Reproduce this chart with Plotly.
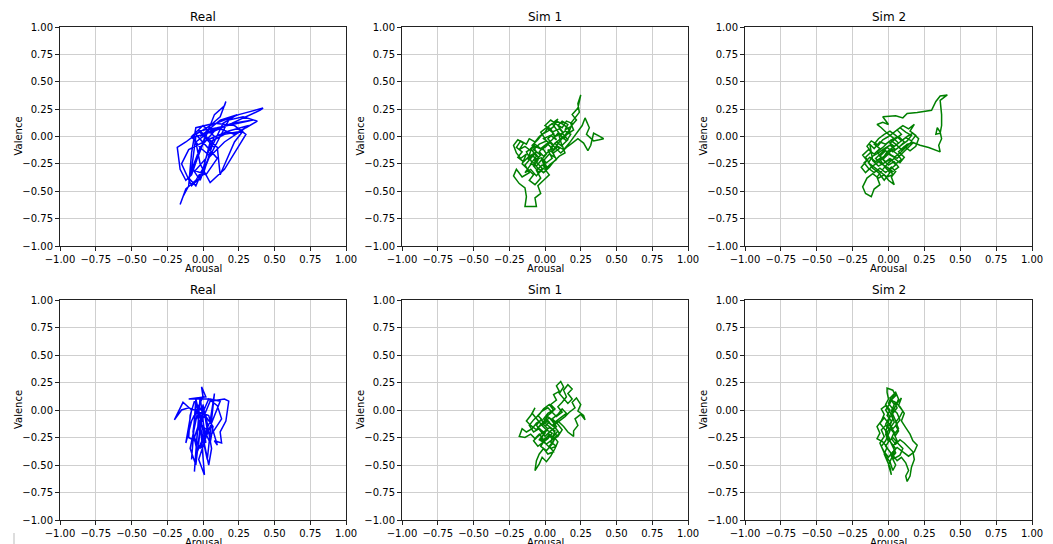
import plotly.graph_objects as go

# ---------------- data (arousal, valence) ----------------
real_top = [(0.00,-0.05),(0.05,0.10),(-0.05,0.02),(0.10,-0.20),(0.02,-0.35),(-0.08,-0.30),(-0.05,0.00),(0.08,0.05),
    (0.20,0.12),(0.35,0.15),(0.10,0.08),(-0.02,-0.10),(-0.10,-0.38),(-0.05,-0.45),(0.00,-0.30),(0.05,-0.05),
    (0.15,0.02),(0.28,0.05),(0.22,-0.05),(0.12,-0.35),(0.10,-0.10),(-0.02,0.05),(-0.12,-0.05),(-0.18,-0.10),
    (-0.16,-0.30),(-0.12,-0.40),(-0.08,-0.35),(-0.04,-0.20),(0.02,0.00),(0.08,0.20),(0.15,0.28),(0.16,0.32),
    (0.12,0.18),(0.05,0.10),(0.25,0.20),(0.42,0.26),(0.40,0.24),(0.20,0.12),(0.05,0.05),(-0.05,-0.05),
    (-0.02,-0.25),(0.05,-0.42),(0.15,-0.30),(0.30,0.02),(0.22,0.10),(0.08,0.12),(-0.05,0.08),(-0.08,-0.15),
    (-0.10,-0.45),(-0.14,-0.55),(-0.16,-0.62),(-0.12,-0.48),(-0.05,-0.40),(0.02,-0.25),(0.10,-0.05),(0.18,0.15),
    (0.28,0.18),(0.38,0.14),(0.30,0.08),(0.15,-0.05),(0.05,-0.18),(-0.02,-0.10),(-0.08,0.00),(0.00,0.10),
    (0.08,0.00),(0.02,-0.20),(-0.06,-0.32),(-0.02,-0.40),(0.04,-0.20),(0.08,-0.10),(-0.03,0.05),(0.10,0.08),
    (0.22,0.02),(0.32,0.10),(0.18,0.05),(0.05,-0.02),(-0.10,-0.12),(-0.15,-0.25),(-0.08,-0.45),(0.00,-0.35),
    (0.06,-0.10),(0.14,0.12),(0.24,0.20),(0.12,0.15),(-0.02,0.00)]

sim1_top = [(0.00,-0.10),(0.03,-0.06),(-0.01,-0.02),(0.04,0.01),(0.08,-0.03),(0.05,0.04),(0.10,0.07),(0.13,0.03),
    (0.09,0.10),(0.12,0.14),(0.16,0.11),(0.14,0.06),(0.18,0.09),(0.22,0.15),(0.19,0.20),(0.23,0.26),(0.25,0.38),
    (0.23,0.30),(0.24,0.22),(0.21,0.17),(0.18,0.12),(0.20,0.06),(0.15,0.02),(0.11,-0.02),(0.07,-0.06),(0.10,-0.11),
    (0.06,-0.15),(0.02,-0.12),(0.05,-0.20),(0.01,-0.24),(-0.03,-0.19),(0.00,-0.28),(-0.04,-0.33),(-0.08,-0.27),
    (-0.05,-0.22),(-0.09,-0.17),(-0.12,-0.21),(-0.10,-0.13),(-0.14,-0.09),(-0.18,-0.12),(-0.15,-0.06),(-0.19,-0.03),
    (-0.22,-0.08),(-0.20,-0.15),(-0.17,-0.20),(-0.13,-0.16),(-0.16,-0.25),(-0.12,-0.30),(-0.08,-0.35),(-0.11,-0.40),
    (-0.07,-0.44),(-0.03,-0.38),(-0.06,-0.31),(-0.02,-0.26),(0.02,-0.30),(-0.01,-0.22),(0.03,-0.16),(0.07,-0.19),
    (0.04,-0.10),(0.08,-0.05),(0.12,-0.09),(0.10,0.00),(0.14,0.05),(0.18,0.02),(0.15,-0.04),(0.11,0.01),(0.08,0.06),
    (0.05,0.12),(0.09,0.16),(0.06,0.09),(0.02,0.05),(-0.02,0.02),(-0.05,-0.03),(-0.09,-0.08),(-0.06,-0.14),
    (-0.10,-0.20),(-0.14,-0.26),(-0.11,-0.33),(-0.16,-0.37),(-0.20,-0.30),(-0.22,-0.36),(-0.18,-0.43),(-0.14,-0.47),
    (-0.13,-0.55),(-0.14,-0.64),(-0.06,-0.64),(-0.07,-0.56),(-0.03,-0.52),(-0.05,-0.45),(-0.01,-0.40),(0.03,-0.35),
    (0.00,-0.30),(0.04,-0.25),(0.08,-0.21),(0.05,-0.14),(0.09,-0.09),(0.13,-0.12),(0.17,-0.06),(0.20,-0.01),
    (0.23,0.04),(0.26,0.10),(0.28,0.17),(0.31,0.08),(0.29,0.02),(0.34,-0.04),(0.38,-0.03),(0.41,-0.02),(0.37,0.01),
    (0.34,0.03),(0.32,-0.08),(0.30,-0.13),(0.27,-0.06),(0.23,-0.02),(0.19,-0.06),(0.15,-0.10),(0.11,-0.15),
    (0.07,-0.10),(0.03,-0.05),(-0.01,-0.09),(-0.04,-0.14),(-0.01,-0.18),(0.03,-0.13),(0.06,-0.08),(0.02,-0.02),
    (0.06,0.03),(0.01,0.08),(-0.03,0.04),(0.01,-0.04),(-0.04,-0.07),(-0.08,-0.12),(-0.03,-0.17),(-0.07,-0.22),
    (-0.02,-0.29),(-0.06,-0.36),(-0.10,-0.30),(-0.14,-0.33),(-0.09,-0.24),(-0.13,-0.14),(-0.07,-0.09),(-0.02,-0.12),
    (0.02,-0.07),(0.06,-0.12),(0.10,-0.05),(0.13,0.00),(0.17,0.06),(0.13,0.11),(0.08,0.14),(0.03,0.10),(0.00,0.04),
    (-0.04,0.00),(-0.07,-0.05),(-0.11,-0.02),(-0.13,-0.07),(-0.17,-0.04),(-0.20,-0.10),(-0.16,-0.14),(-0.19,-0.19),
    (-0.15,-0.23),(-0.11,-0.18),(-0.07,-0.15),(-0.04,-0.20),(-0.08,-0.24),(-0.05,-0.29),(-0.01,-0.33),(0.03,-0.28),
    (0.06,-0.23),(0.10,-0.18),(0.14,-0.15),(0.12,-0.08),(0.16,-0.03),(0.12,0.03),(0.07,0.00),(0.04,0.07),
    (0.00,0.10),(0.04,0.15),(0.08,0.11),(0.12,0.08),(0.15,0.14),(0.19,0.12),(0.17,0.05),(0.13,-0.02),(0.09,0.03),
    (0.05,-0.03),(0.01,-0.07),(-0.03,-0.11),(-0.07,-0.07),(-0.10,-0.11),(-0.06,-0.18),(-0.10,-0.25),(-0.06,-0.27),
    (-0.03,-0.22),(0.01,-0.16),(-0.02,-0.10)]

sim2_top = [(0.00,-0.15),(0.04,-0.11),(0.01,-0.06),(0.05,-0.02),(0.09,0.02),(0.06,0.06),(0.10,0.10),(0.14,0.07),
    (0.18,0.11),(0.15,0.05),(0.19,0.01),(0.16,-0.04),(0.12,-0.01),(0.08,-0.05),(0.04,-0.09),(0.00,-0.05),
    (-0.04,-0.10),(-0.08,-0.14),(-0.05,-0.19),(-0.09,-0.23),(-0.13,-0.19),(-0.17,-0.24),(-0.14,-0.29),(-0.10,-0.33),
    (-0.06,-0.29),(-0.02,-0.33),(0.02,-0.28),(0.05,-0.32),(0.02,-0.37),(0.04,-0.44),(0.00,-0.40),(-0.03,-0.35),
    (-0.07,-0.38),(-0.11,-0.34),(-0.15,-0.38),(-0.18,-0.46),(-0.16,-0.52),(-0.12,-0.55),(-0.10,-0.48),(-0.06,-0.44),
    (-0.08,-0.37),(-0.04,-0.30),(0.00,-0.24),(0.04,-0.20),(0.08,-0.24),(0.11,-0.19),(0.07,-0.14),(0.11,-0.09),
    (0.15,-0.13),(0.19,-0.09),(0.21,-0.02),(0.17,0.03),(0.13,0.00),(0.09,-0.04),(0.05,0.01),(0.01,0.05),
    (-0.03,0.02),(-0.07,-0.02),(-0.10,-0.07),(-0.06,-0.11),(-0.10,-0.16),(-0.14,-0.12),(-0.18,-0.17),(-0.15,-0.22),
    (-0.19,-0.28),(-0.16,-0.33),(-0.12,-0.28),(-0.08,-0.24),(-0.04,-0.20),(-0.01,-0.14),(0.03,-0.10),(0.07,-0.06),
    (0.03,-0.01),(-0.01,0.03),(-0.05,0.08),(-0.08,0.11),(-0.04,0.13),(0.00,0.11),(-0.04,0.18),(0.05,0.19),
    (0.10,0.17),(0.13,0.21),(0.20,0.22),(0.27,0.23),(0.30,0.24),(0.33,0.32),(0.36,0.37),(0.41,0.38),(0.36,0.33),
    (0.37,0.20),(0.37,0.10),(0.36,0.03),(0.33,0.02),(0.34,0.08),(0.36,0.04),(0.37,-0.02),(0.35,-0.08),(0.36,-0.14),
    (0.28,-0.10),(0.22,-0.08),(0.16,-0.05),(0.12,-0.10),(0.08,-0.15),(0.04,-0.19),(0.00,-0.16),(-0.04,-0.21),
    (0.00,-0.26),(0.04,-0.23),(0.07,-0.28),(0.03,-0.32),(-0.01,-0.28),(-0.05,-0.25),(-0.09,-0.20),(-0.05,-0.15),
    (-0.01,-0.10),(0.03,-0.14),(0.07,-0.10),(0.11,-0.05),(0.07,0.00),(0.02,-0.03),(-0.02,-0.07),(-0.06,-0.05),
    (-0.10,-0.11),(-0.13,-0.07),(-0.11,-0.22),(-0.07,-0.27),(-0.03,-0.24),(0.01,-0.20),(0.05,-0.25),(0.09,-0.21),
    (0.06,-0.16),(0.02,-0.12),(-0.02,-0.17),(-0.06,-0.21),(-0.03,-0.27),(0.01,-0.33),(-0.03,-0.40),(-0.07,-0.33),
    (-0.11,-0.29),(-0.14,-0.24),(-0.11,-0.18),(-0.07,-0.15),(-0.03,-0.11),(0.01,-0.08),(0.05,-0.12),(0.09,-0.08),
    (0.13,-0.04),(0.16,0.01),(0.12,0.04),(0.08,0.08),(0.04,0.04),(0.00,0.00),(-0.04,-0.03),(-0.07,-0.08),
    (-0.12,-0.04),(-0.15,-0.09),(-0.12,-0.14),(-0.16,-0.19),(-0.13,-0.25),(-0.09,-0.29),(-0.05,-0.33),(-0.01,-0.37),
    (0.03,-0.35),(0.01,-0.30),(0.05,-0.26),(0.02,-0.21),(-0.02,-0.23),(-0.06,-0.18),(-0.02,-0.13),(0.02,-0.17),
    (0.06,-0.20),(0.10,-0.15),(0.14,-0.10),(0.17,-0.06),(0.13,-0.07),(0.09,-0.12),(0.05,-0.07),(0.01,-0.03)]

real_bottom = [(0.00,-0.10),(-0.05,0.05),(-0.08,-0.45),(-0.05,0.10),(0.02,-0.30),(-0.02,0.12),(-0.06,-0.56),
    (-0.04,-0.20),(0.05,0.08),(0.15,0.10),(0.18,0.08),(0.16,-0.10),(0.12,-0.20),(0.13,-0.30),(0.08,-0.28),
    (0.10,-0.32),(0.04,-0.05),(-0.10,0.02),(-0.15,0.00),(-0.20,-0.09),(-0.14,0.07),(-0.08,0.00),(-0.12,-0.30),
    (-0.08,-0.10),(0.00,0.12),(-0.01,0.21),(0.02,0.12),(-0.07,0.10),(-0.10,0.10),(0.05,0.10),(0.12,0.08),
    (0.02,-0.25),(-0.03,-0.45),(0.01,-0.59),(0.00,-0.40),(-0.02,-0.10),(0.05,-0.30),(0.07,-0.15),(-0.03,0.03),
    (-0.09,-0.35),(-0.05,-0.50),(-0.02,-0.15),(0.03,-0.45),(0.05,-0.20),(0.08,0.15),(0.05,-0.10),(-0.04,-0.38),
    (-0.07,-0.20),(-0.05,0.00),(0.00,-0.25),(0.04,-0.50),(0.06,-0.35),(0.02,-0.05),(-0.06,0.08),(-0.09,-0.05),
    (-0.10,-0.25),(-0.03,-0.30),(0.00,0.05),(0.03,-0.18),(-0.02,-0.35),(-0.06,-0.25),(-0.01,-0.05),(0.04,0.10),
    (0.10,0.04),(0.13,-0.08),(0.06,-0.22),(0.00,-0.15)]

sim1_bottom = [(0.00,-0.15),(0.03,-0.11),(0.00,-0.07),(0.04,-0.03),(0.07,0.01),(0.04,0.05),(0.08,0.09),(0.06,0.14),
    (0.10,0.17),(0.08,0.22),(0.11,0.26),(0.13,0.21),(0.10,0.15),(0.13,0.10),(0.16,0.06),(0.19,0.10),(0.16,0.15),
    (0.19,0.19),(0.16,0.23),(0.13,0.18),(0.15,0.12),(0.12,0.07),(0.09,0.03),(0.12,-0.02),(0.08,-0.06),(0.05,-0.02),
    (0.02,0.02),(-0.02,-0.01),(-0.05,-0.05),(-0.02,-0.09),(-0.06,-0.12),(-0.09,-0.17),(-0.13,-0.20),(-0.16,-0.17),
    (-0.18,-0.24),(-0.14,-0.25),(-0.10,-0.22),(-0.07,-0.26),(-0.04,-0.22),(-0.01,-0.27),(0.03,-0.23),(0.06,-0.28),
    (0.03,-0.33),(0.06,-0.38),(0.02,-0.40),(-0.01,-0.35),(-0.04,-0.40),(-0.06,-0.46),(-0.07,-0.55),(-0.04,-0.49),
    (-0.02,-0.43),(0.01,-0.47),(0.04,-0.42),(0.07,-0.35),(0.09,-0.29),(0.06,-0.24),(0.09,-0.19),(0.06,-0.14),
    (0.10,-0.10),(0.14,-0.06),(0.17,-0.02),(0.21,0.02),(0.19,0.07),(0.22,0.11),(0.25,0.05),(0.23,-0.01),
    (0.27,-0.05),(0.28,-0.09),(0.25,-0.04),(0.21,-0.08),(0.23,-0.14),(0.20,-0.19),(0.20,-0.24),(0.16,-0.20),
    (0.13,-0.15),(0.09,-0.10),(0.05,-0.14),(0.02,-0.10),(-0.02,-0.14),(-0.06,-0.08),(-0.09,-0.03),(-0.07,0.02),
    (-0.10,-0.05),(-0.13,-0.10),(-0.10,-0.14),(-0.06,-0.18),(-0.03,-0.13),(0.01,-0.18),(0.05,-0.21),(0.02,-0.26),
    (-0.02,-0.30),(-0.05,-0.33),(-0.08,-0.28),(-0.05,-0.24),(-0.01,-0.20),(0.03,-0.16),(0.07,-0.19),(0.04,-0.29),
    (0.08,-0.33),(0.04,-0.35),(0.00,-0.30),(-0.04,-0.27),(-0.01,-0.22),(0.02,-0.17),(-0.02,-0.12),(0.02,-0.06),
    (0.05,-0.10),(0.08,-0.15),(0.04,-0.19),(0.00,-0.24),(-0.03,-0.18),(-0.06,-0.14),(-0.03,-0.09),(0.01,-0.13),
    (0.05,-0.17),(0.08,-0.23),(0.05,-0.31),(0.01,-0.37),(-0.03,-0.33),(0.00,-0.27),(0.03,-0.22),(0.07,-0.26),
    (0.10,-0.21),(0.07,-0.16),(0.03,-0.12),(-0.01,-0.08),(0.02,-0.03),(0.06,0.00),(0.03,0.05),(-0.01,0.01),
    (-0.04,-0.04),(-0.08,-0.09),(-0.11,-0.14),(-0.08,-0.20),(-0.04,-0.17),(0.00,-0.21),(-0.03,-0.26),(0.01,-0.31),
    (0.05,-0.27),(0.09,-0.24),(0.12,-0.18),(0.09,-0.13),(0.05,-0.08),(0.09,-0.04),(0.12,0.01),(0.15,-0.03),
    (0.11,-0.07),(0.07,-0.11),(0.03,-0.07),(-0.01,-0.12),(-0.05,-0.16),(-0.02,-0.21)]

sim2_bottom = [(0.00,-0.15),(0.02,-0.10),(-0.01,-0.05),(0.01,0.00),(-0.02,0.05),(0.00,0.10),(-0.01,0.16),
    (-0.01,0.20),(0.03,0.18),(0.05,0.13),(0.02,0.09),(0.06,0.06),(0.09,0.11),(0.07,0.04),(0.10,-0.01),(0.08,-0.06),
    (0.05,-0.11),(0.07,-0.17),(0.04,-0.22),(0.06,-0.28),(0.03,-0.33),(0.05,-0.39),(0.02,-0.44),(0.00,-0.50),
    (0.02,-0.59),(0.01,-0.52),(-0.01,-0.46),(-0.03,-0.40),(-0.01,-0.34),(-0.04,-0.29),(-0.08,-0.26),(-0.06,-0.21),
    (-0.08,-0.15),(-0.05,-0.10),(-0.03,-0.04),(-0.05,0.01),(-0.02,0.04),(0.01,-0.02),(0.03,-0.08),(0.01,-0.14),
    (0.04,-0.20),(0.02,-0.26),(0.05,-0.31),(0.08,-0.27),(0.11,-0.30),(0.14,-0.34),(0.17,-0.38),(0.18,-0.45),
    (0.16,-0.52),(0.15,-0.60),(0.13,-0.65),(0.12,-0.60),(0.14,-0.55),(0.12,-0.48),(0.09,-0.43),(0.06,-0.46),
    (0.03,-0.41),(0.05,-0.35),(0.02,-0.30),(-0.01,-0.25),(0.01,-0.19),(-0.02,-0.13),(0.00,-0.08),(0.03,-0.03),
    (0.06,0.02),(0.04,0.08),(0.08,0.03),(0.11,-0.03),(0.09,-0.10),(0.12,-0.16),(0.15,-0.22),(0.17,-0.28),
    (0.20,-0.32),(0.18,-0.38),(0.14,-0.42),(0.10,-0.38),(0.06,-0.34),(0.03,-0.38),(0.00,-0.43),(-0.03,-0.38),
    (-0.05,-0.33),(-0.02,-0.28),(0.00,-0.22),(-0.03,-0.17),(-0.06,-0.12),(-0.03,-0.07),(0.00,-0.12),(0.03,-0.17),
    (0.06,-0.13),(0.04,-0.07),(0.02,-0.01),(0.04,0.05),(0.01,0.11),(0.04,0.14),(0.01,0.06),(-0.02,0.00),
    (0.01,-0.06),(-0.02,-0.20),(0.01,-0.28),(0.04,-0.36),(0.02,-0.42),(0.05,-0.50),(0.03,-0.55),(0.01,-0.47),
    (-0.02,-0.42),(-0.04,-0.36),(-0.06,-0.30),(-0.03,-0.24),(-0.05,-0.18),(-0.02,-0.14),(0.02,-0.18),(0.05,-0.23),
    (0.07,-0.19),(0.05,-0.14),(0.08,-0.09),(0.06,-0.03),(0.03,0.01),(0.00,0.06),(0.02,0.12),(0.05,0.16),
    (0.07,0.10),(0.05,0.04),(0.02,-0.04),(0.04,-0.11),(0.01,-0.16),(-0.02,-0.22),(0.00,-0.29),(0.03,-0.25),
    (0.07,-0.31),(0.10,-0.35),(0.08,-0.41),(0.04,-0.44),(0.01,-0.38),(-0.02,-0.33),(0.01,-0.27),(-0.01,-0.21)]

titles = ["Real", "Sim 1", "Sim 2", "Real", "Sim 1", "Sim 2"]
series = [real_top, sim1_top, sim2_top, real_bottom, sim1_bottom, sim2_bottom]
colors = ["#0000ff", "#008000", "#008000", "#0000ff", "#008000", "#008000"]
tick_vals = [-1.0, -0.75, -0.5, -0.25, 0.0, 0.25, 0.5, 0.75, 1.0]
tick_text = ["−1.00", "−0.75", "−0.50", "−0.25", "0.00", "0.25", "0.50", "0.75", "1.00"]
x_label = "Arousal"
y_label = "Valence"

# ---------------- layout geometry (screen pixels; page body has an 8px margin) ----------------
W, H = 1053, 544
OFF = 8
col_px = [(60, 346), (402, 688), (745, 1032)]
row_px = [(27, 246), (300, 520)]
FONT = "DejaVu Sans"


def fx(px):
    return (px - OFF) / W


def fy(py):
    return 1 - (py - OFF) / H


fig = go.Figure()
layout = dict(
    width=W, height=H, margin=dict(l=0, r=0, t=0, b=0, autoexpand=False),
    paper_bgcolor="white", plot_bgcolor="white", showlegend=False,
    font=dict(family=FONT, size=10, color="black"),
)
annotations = []
for i, (pts, col) in enumerate(zip(series, colors)):
    r, c = divmod(i, 3)
    x0, x1 = col_px[c]
    yt, yb = row_px[r]
    xa = "xaxis" if i == 0 else f"xaxis{i+1}"
    ya = "yaxis" if i == 0 else f"yaxis{i+1}"
    xref = "x" if i == 0 else f"x{i+1}"
    yref = "y" if i == 0 else f"y{i+1}"
    xs = [p[0] for p in pts]
    ys = [p[1] for p in pts]
    fig.add_trace(go.Scatter(x=xs, y=ys, mode="lines", xaxis=xref, yaxis=yref,
                             line=dict(color=col, width=1.5), hoverinfo="skip"))
    common = dict(range=[-1, 1], tickvals=tick_vals, ticktext=tick_text,
                  showgrid=True, gridcolor="#cfcfcf", gridwidth=1,
                  showline=True, linecolor="#222222", linewidth=1, mirror=True,
                  ticks="outside", ticklen=4, tickcolor="#222222", tickwidth=1,
                  zeroline=False, tickfont=dict(family=FONT, size=10, color="black"),
                  fixedrange=True, automargin=False)
    layout[xa] = dict(common, domain=[fx(x0), fx(x1)], anchor=yref)
    layout[ya] = dict(common, domain=[fy(yb), fy(yt)], anchor=xref)
    cx = (x0 + x1) / 2
    cy = (yt + yb) / 2
    annotations.append(dict(text=titles[i], x=fx(cx), y=fy(yt - 1), xref="paper", yref="paper",
                            xanchor="center", yanchor="bottom", showarrow=False,
                            font=dict(family=FONT, size=12, color="black")))
    annotations.append(dict(text=x_label, x=fx(cx), y=fy(yb + 15), xref="paper", yref="paper",
                            xanchor="center", yanchor="top", showarrow=False,
                            font=dict(family=FONT, size=10, color="black")))
    annotations.append(dict(text=y_label, x=fx(x0 - 42), y=fy(cy), xref="paper", yref="paper",
                            xanchor="center", yanchor="middle", showarrow=False, textangle=-90,
                            font=dict(family=FONT, size=10, color="black")))

layout["annotations"] = annotations
layout["shapes"] = [dict(type="line", xref="paper", yref="paper", x0=fx(14), x1=fx(14),
                         y0=fy(544), y1=fy(533), line=dict(color="#bbbbbb", width=1))]
fig.update_layout(**layout)
fig.write_html("out.html")
